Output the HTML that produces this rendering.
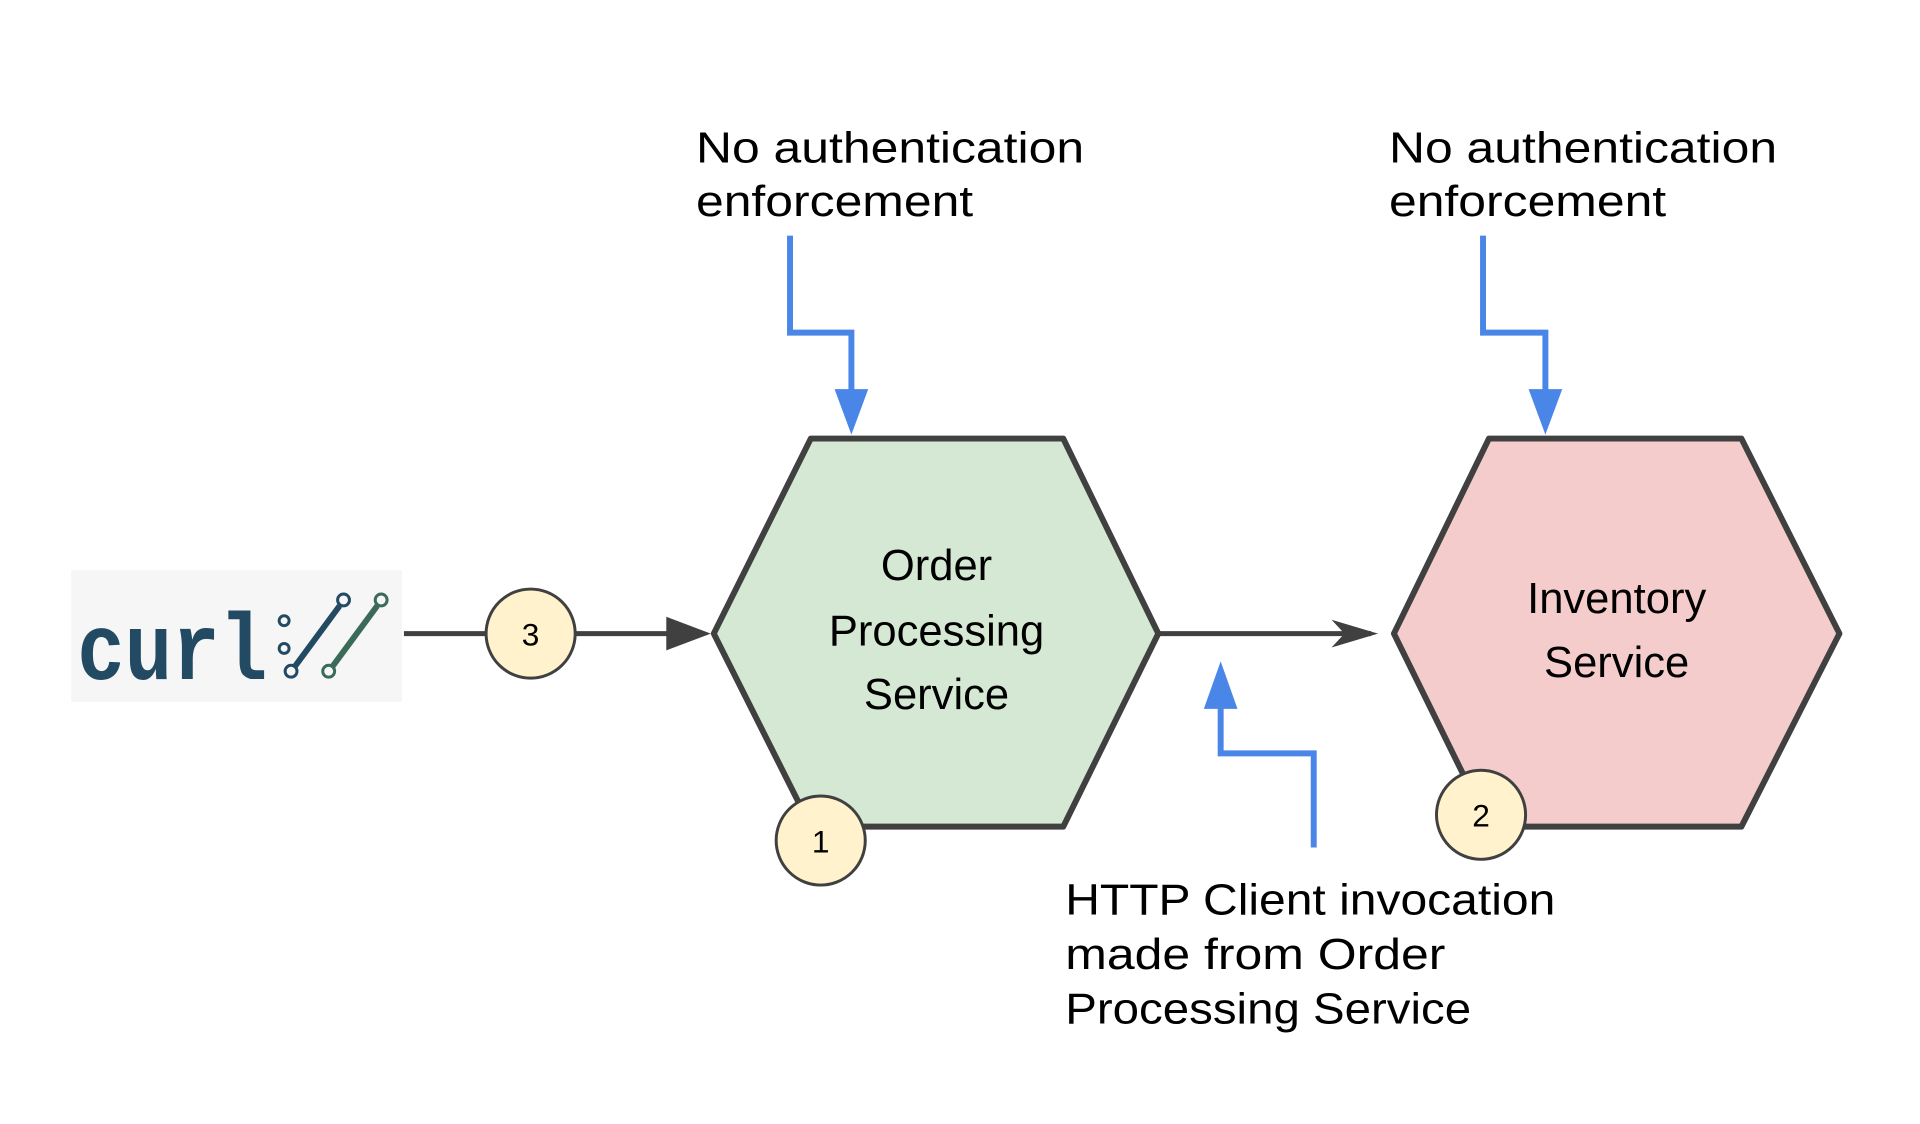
<!DOCTYPE html>
<html><head><meta charset="utf-8"><style>
html,body{margin:0;padding:0;background:#fff;}
svg{display:block;}
text{font-family:"Liberation Sans",sans-serif;fill:#000;}
</style></head><body>
<svg width="1920" height="1124" viewBox="0 0 1920 1124" xmlns="http://www.w3.org/2000/svg">
<rect width="1920" height="1124" fill="#fff"/>
<g transform="scale(0.99)">
<!-- curl logo -->
<rect x="72" y="576" width="334" height="133" fill="#f6f6f6"/>
<text x="78" y="686" font-size="96" font-weight="bold" style="fill:#234a63;font-family:'Liberation Mono',monospace" textLength="192" lengthAdjust="spacingAndGlyphs">curl</text>
<circle cx="287" cy="627" r="5" fill="none" stroke="#234a63" stroke-width="3"/>
<circle cx="287" cy="655" r="5" fill="none" stroke="#234a63" stroke-width="3"/>
<line x1="298" y1="673" x2="343" y2="612" stroke="#234a63" stroke-width="6"/>
<circle cx="294" cy="678" r="6" fill="#f6f6f6" stroke="#234a63" stroke-width="3"/>
<circle cx="347" cy="606" r="6" fill="#f6f6f6" stroke="#234a63" stroke-width="3"/>
<line x1="336" y1="673" x2="381" y2="612" stroke="#3b6a58" stroke-width="6"/>
<circle cx="332" cy="678" r="6" fill="#f6f6f6" stroke="#3b6a58" stroke-width="3"/>
<circle cx="385" cy="606" r="6" fill="#f6f6f6" stroke="#3b6a58" stroke-width="3"/>

<line x1="408" y1="640" x2="680" y2="640" stroke="#404040" stroke-width="5"/>
<polygon points="673,623 718,640 673,657" fill="#404040"/>

<polygon points="819,443 1074,443 1170,640 1074,835 819,835 721,640" fill="#d5e8d4" stroke="#404040" stroke-width="6" stroke-linejoin="round"/>
<polygon points="1504,443 1759,443 1858,640 1759,835 1504,835 1408,640" fill="#f4cccc" stroke="#404040" stroke-width="6" stroke-linejoin="round"/>

<line x1="1170" y1="640" x2="1385" y2="640" stroke="#404040" stroke-width="5"/>
<path d="M1345,626 L1392,640 L1345,654 L1358,640 Z" fill="#404040"/>

<polyline points="798,238 798,336 860,336 860,400" fill="none" stroke="#4a86e8" stroke-width="6"/>
<polygon points="843,393 877,393 860,439" fill="#4a86e8"/>
<polyline points="1498,238 1498,336 1561,336 1561,400" fill="none" stroke="#4a86e8" stroke-width="6"/>
<polygon points="1544,393 1578,393 1561,439" fill="#4a86e8"/>
<polyline points="1327,856 1327,761 1233,761 1233,710" fill="none" stroke="#4a86e8" stroke-width="6"/>
<polygon points="1216,716 1250,716 1233,668" fill="#4a86e8"/>

<circle cx="536" cy="640" r="45" fill="#fff2cc" stroke="#404040" stroke-width="3"/>
<text x="536" y="652" font-size="32" text-anchor="middle">3</text>
<circle cx="829" cy="849" r="45" fill="#fff2cc" stroke="#404040" stroke-width="3"/>
<text x="829" y="861" font-size="32" text-anchor="middle">1</text>
<circle cx="1496" cy="823" r="45" fill="#fff2cc" stroke="#404040" stroke-width="3"/>
<text x="1496" y="835" font-size="32" text-anchor="middle">2</text>

<g font-size="44">
<text x="703" y="164" textLength="392" lengthAdjust="spacingAndGlyphs">No authentication</text>
<text x="703" y="218" textLength="280" lengthAdjust="spacingAndGlyphs">enforcement</text>
<text x="1403" y="164" textLength="392" lengthAdjust="spacingAndGlyphs">No authentication</text>
<text x="1403" y="218" textLength="280" lengthAdjust="spacingAndGlyphs">enforcement</text>
<text x="946" y="586" text-anchor="middle">Order</text>
<text x="946" y="652" text-anchor="middle">Processing</text>
<text x="946" y="716" text-anchor="middle">Service</text>
<text x="1633" y="619" text-anchor="middle">Inventory</text>
<text x="1633" y="684" text-anchor="middle">Service</text>
<text x="1076" y="924" textLength="495" lengthAdjust="spacingAndGlyphs">HTTP Client invocation</text>
<text x="1076" y="979" textLength="384" lengthAdjust="spacingAndGlyphs">made from Order</text>
<text x="1076" y="1034" textLength="410" lengthAdjust="spacingAndGlyphs">Processing Service</text>
</g>
</g>
</svg>
</body></html>
